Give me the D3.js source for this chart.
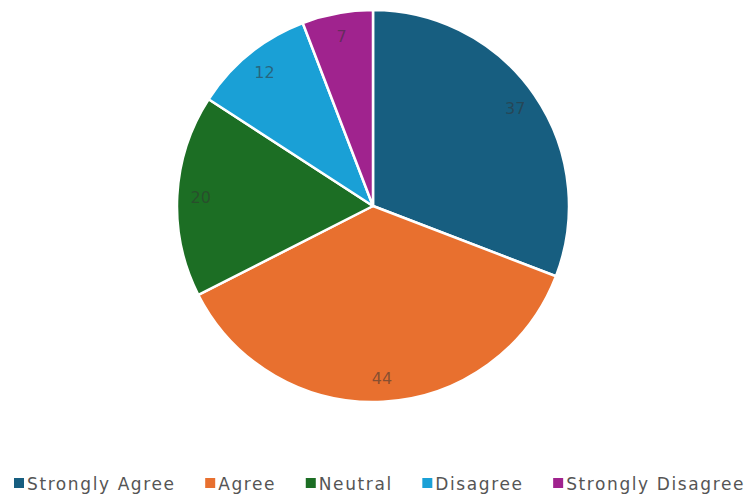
<!DOCTYPE html>
<html><head><meta charset="utf-8">
<script src="https://cdn.jsdelivr.net/npm/d3@7"></script>
<style>body{margin:0;background:#fff;}svg{display:block;}</style>
</head><body>
<svg id="chart" width="747" height="497"></svg>
<script>
const categories = ["Strongly Agree","Agree","Neutral","Disagree","Strongly Disagree"];
const values = [37,44,20,12,7];
const colors = ["#175e80","#e8702f","#1c6e24","#1aa0d6","#a0238e"];

const svg = d3.select("#chart");
const cx = 373, cy = 206, R = 196;
const color = d3.scaleOrdinal().domain(categories).range(colors);
const data = categories.map((c,i)=>({cat:c,val:values[i]}));
const pie = d3.pie().value(d=>d.val).sort(null);
const arcs = pie(data);
const arc = d3.arc().innerRadius(0).outerRadius(R);
const labelArc = d3.arc().innerRadius(R*0.88).outerRadius(R*0.88);

const g = svg.append("g").attr("transform",`translate(${cx},${cy})`);
g.selectAll("path").data(arcs).join("path")
  .attr("d",arc).attr("fill",d=>color(d.data.cat))
  .attr("stroke","#fff").attr("stroke-width",2.5).attr("stroke-linejoin","round");
g.selectAll("text").data(arcs).join("text")
  .attr("transform",d=>`translate(${labelArc.centroid(d)})`)
  .attr("text-anchor","middle").attr("dy","0.35em")
  .attr("font-family","Verdana, 'DejaVu Sans', sans-serif").attr("font-size",16)
  .attr("fill","#333").attr("fill-opacity",0.55)
  .text(d=>d.data.val);

// legend
const lg = svg.append("g").attr("transform","translate(0,484)");
const items = lg.selectAll("g").data(categories).join("g");
items.append("rect").attr("width",10).attr("height",10).attr("y",-6).attr("fill",d=>color(d));
items.append("text").attr("x",13).attr("dy","0.35em")
  .attr("font-family","Verdana, 'DejaVu Sans', sans-serif").attr("font-size",17)
  .attr("letter-spacing",1.6)
  .attr("fill","#555").text(d=>d);
let widths = [];
items.each(function(){ widths.push(this.getBBox().width); });
const left = 14, right = 745;
const gap = ((right-left) - d3.sum(widths))/(widths.length-1);
let x = left;
items.each(function(d,i){ d3.select(this).attr("transform",`translate(${x},0)`); x += widths[i]+gap; });
</script>
</body></html>
